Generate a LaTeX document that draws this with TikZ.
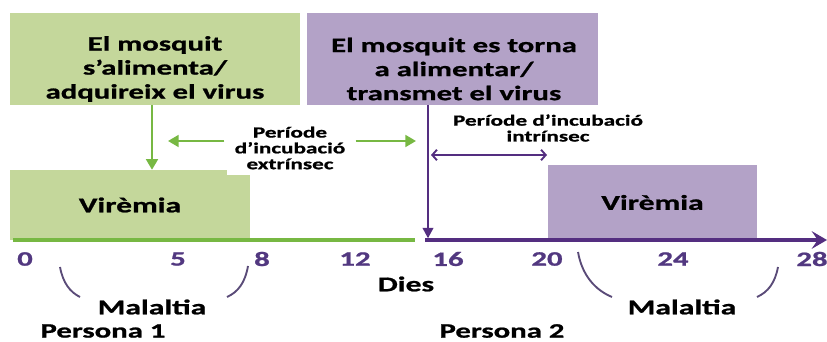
\documentclass[tikz,border=0pt]{standalone}
\usepackage{fontspec}
\setmainfont{Carlito}[FakeStretch=1.5, BoldFeatures={FakeBold=1}]
\usetikzlibrary{arrows.meta, positioning}
\definecolor{mygreen}{RGB}{119,184,67}
\definecolor{hdrgreen}{RGB}{196,215,155}
\definecolor{mypurple}{RGB}{84,46,128}
\definecolor{hdrpurple}{RGB}{179,162,199}
\definecolor{numpurple}{RGB}{82,56,128}
\definecolor{arcgray}{RGB}{90,75,120}
\tikzset{
  topbox/.style={rectangle, inner sep=0pt, minimum width=8.7cm,
    minimum height=2.76cm},
  toptxt/.style={align=center, inner sep=0pt,
    font=\bfseries\fontsize{17.5}{20.5}\selectfont},
  virbox/.style={rectangle, inner sep=0pt,
    font=\bfseries\fontsize{18}{20}\selectfont},
  lbl/.style={align=center, inner sep=0pt,
    font=\bfseries\fontsize{13.2}{13.5}\selectfont},
  daynum/.style={inner sep=0pt, text=numpurple,
    font=\bfseries\fontsize{17.5}{19}\selectfont},
  bigtxt/.style={inner sep=0pt, font=\bfseries\fontsize{17.5}{19}\selectfont},
  maltxt/.style={inner sep=0pt, font=\bfseries\fontsize{18}{20}\selectfont},
  garrow/.style={-{Triangle[length=9pt,width=10pt]}, line width=2pt, color=mygreen},
  parrow/.style={-{Triangle[length=9pt,width=9pt]}, line width=2pt, color=mypurple},
  span/.style={{Straight Barb[length=4pt,width=9pt]}-{Straight Barb[length=4pt,width=9pt]},
    line width=1.6pt, color=mypurple},
  arcline/.style={line width=1.6pt, color=arcgray}
}
\begin{document}
\begin{tikzpicture}[x=0.03cm, y=-0.03cm]
  \useasboundingbox (0,0) rectangle (827,342);

  % Feeding boxes
  \node[topbox, fill=hdrgreen] (gtop) at (155,59) {};
  \node[topbox, fill=hdrpurple] (ptop) at (452.5,59) {};
  \node[toptxt] (gtoptxt) at (155,69)
    {El mosquit\\s’alimenta/\\adquireix el virus};
  \node[toptxt] (ptoptxt) at (454,69)
    {El mosquit es torna\\a alimentar/\\transmet el virus};

  % Viraemia boxes
  \node[virbox, fill=hdrgreen, minimum width=7.2cm, minimum height=2.1cm] (gvir)
    at (130,205) {Virèmia};
  \fill[white] (227,169) rectangle (251,175);
  \node[virbox, fill=hdrpurple, minimum width=6.27cm, minimum height=2.25cm] (pvir)
    at (652.5,202.5) {Virèmia};

  % Time axis
  \coordinate (gstart) at (13,240);
  \coordinate (gstop) at (415,240);
  \coordinate (pstart) at (425,240);
  \coordinate (pstop) at (827,240);
  \draw[mygreen, line width=3.2pt] (gstart) -- (gstop);
  \draw[mypurple, line width=3.2pt, -{Stealth[length=13pt,width=15pt,inset=5pt]}]
    (pstart) -- (pstop);

  % Feeding arrows
  \coordinate (gfeed) at (152,105);
  \coordinate (pfeed) at (428,105);
  \draw[garrow] (gfeed) -- (gfeed |- gvir.north);
  \draw[parrow] (pfeed) -- ([yshift=0.05cm]pfeed |- pstart);

  % Extrinsic incubation
  \node[lbl] (ext) at (290,148) {Període\\d’incubació\\extrínsec};
  \coordinate (extl) at (168,141);
  \coordinate (extr) at (416,141);
  \draw[garrow] (ext.west |- extl) ++(-10,0) -- (extl);
  \draw[garrow] (ext.east |- extr) ++(10,0) -- (extr);

  % Intrinsic incubation
  \node[lbl] (intr) at (548,128) {Període d’incubació\\intrínsec};
  \coordinate (intl) at (431,155);
  \coordinate (intrr) at (547,155);
  \draw[span] (intl) -- (intrr);

  % Day numbers
  \foreach \d/\x in {0/25, 5/178, 8/262, 12/355, 16/448, 20/547, 24/673, 28/812}
    \node[daynum] (d\d) at (\x,259) {\d};
  \node[maltxt] (dies) at (406,284) {Dies};

  % Illness
  \node[maltxt] (mal1) at (152,307) {Malaltia};
  \node[maltxt] (mal2) at (682,307) {Malaltia};
  \draw[arcline] (60,267) .. controls (63,283) and (70,292) .. (80,297);
  \draw[arcline] (248,266) .. controls (245,283) and (238,292) .. (227,297);
  \draw[arcline] (578,252) .. controls (582,275) and (595,290) .. (612,297);
  \draw[arcline] (778,267) .. controls (775,283) and (768,292) .. (757,297);

  % People
  \node[bigtxt] (pers1) at (103,331) {Persona 1};
  \node[bigtxt] (pers2) at (502,331) {Persona 2};
\end{tikzpicture}
\end{document}
